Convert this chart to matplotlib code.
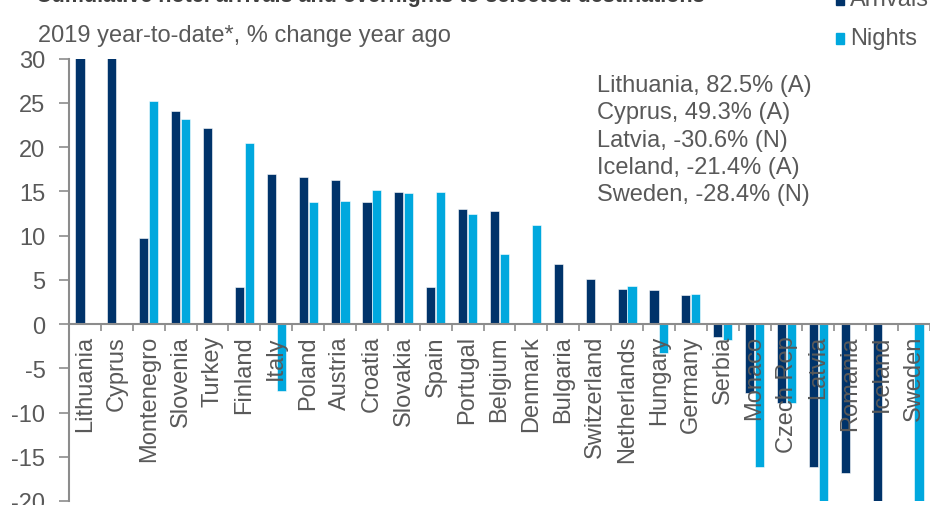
import numpy as np
import matplotlib
matplotlib.use("Agg")
import matplotlib.pyplot as plt
from matplotlib.patches import Rectangle

countries = ["Lithuania", "Cyprus", "Montenegro", "Slovenia", "Turkey", "Finland", "Italy",
             "Poland", "Austria", "Croatia", "Slovakia", "Spain", "Portugal", "Belgium",
             "Denmark", "Bulgaria", "Switzerland", "Netherlands", "Hungary", "Germany",
             "Serbia", "Monaco", "Czech Rep", "Latvia", "Romania", "Iceland", "Sweden"]
arrivals = [82.5, 49.3, 9.75, 24.1, 22.1, 4.15, 16.95,
            16.6, 16.25, 13.75, 14.9, 4.15, 12.95, 12.8,
            np.nan, 6.75, 5.1, 3.95, 3.8, 3.25,
            -1.45, -7.8, -8.95, -16.2, -16.8, -21.4, np.nan]
nights = [np.nan, np.nan, 25.2, 23.15, np.nan, 20.45, -7.6,
          13.75, 13.95, 15.15, 14.8, 14.9, 12.45, 7.95,
          11.2, np.nan, 0.1, 4.25, -3.3, 3.35,
          -1.8, -16.2, -8.95, -30.6, np.nan, np.nan, -28.4]
notes = ["Lithuania, 82.5% (A)", "Cyprus, 49.3% (A)", "Latvia, -30.6% (N)",
         "Iceland, -21.4% (A)", "Sweden, -28.4% (N)"]
yticks = [-20, -15, -10, -5, 0, 5, 10, 15, 20, 25, 30]

C_ARR = "#00336A"
C_NIG = "#00A8DE"
GRAY = "#595959"
SPINE = "#8C8C8C"
FS = 17

plt.rcParams["font.family"] = ["Liberation Sans", "DejaVu Sans"]

W, H = 930, 506
fig = plt.figure(figsize=(W / 100, H / 100), dpi=100)
ax = fig.add_axes([69 / W, 1 - 502 / H, (W - 69) / W, (502 - 59.5) / H])

x = np.arange(len(countries))
bw = 0.285
ax.bar(x - 0.155, arrivals, width=bw, color=C_ARR, edgecolor="white", linewidth=0.4, zorder=1)
ax.bar(x + 0.155, nights, width=bw, color=C_NIG, edgecolor="white", linewidth=0.4, zorder=1)

ax.set_xlim(-0.5, len(countries) - 0.5)
ax.set_ylim(-20, 30)

for s in ["top", "right"]:
    ax.spines[s].set_visible(False)
ax.spines["bottom"].set_position(("data", 0))
ax.spines["bottom"].set_color(SPINE)
ax.spines["left"].set_color(SPINE)
ax.spines["bottom"].set_linewidth(1.5)
ax.spines["left"].set_linewidth(1.5)

ax.set_yticks(yticks)
ax.set_yticklabels([str(v) for v in yticks])
ax.tick_params(axis="y", direction="out", length=7, width=1.2, color=SPINE,
               labelsize=FS, labelcolor=GRAY, pad=10)

ax.set_xticks(x)
ax.set_xticklabels(countries, rotation=90, va="top", ha="center")
ax.tick_params(axis="x", which="major", length=0, labelsize=FS, labelcolor=GRAY, pad=8)
ax.set_xticks(np.arange(len(countries) + 1) - 0.5, minor=True)
ax.tick_params(axis="x", which="minor", direction="out", length=5, width=1.2, color=SPINE)

ax.text(596.7 / W, 1 - 75 / H, "\n".join(notes), transform=fig.transFigure,
        fontsize=FS, color=GRAY, va="top", ha="left", linespacing=1.31)

fig.text(38 / W, 1 - 36 / H, "2019 year-to-date*, % change year ago",
         fontsize=FS, color=GRAY, va="center", ha="left")

fig.text(36 / W, 1 - 2 / H,
         "Cumulative hotel arrivals and overnights to selected destinations",
         fontsize=15.5, fontweight="bold", color="#404040", va="baseline", ha="left")

# legend
for yc, lab, col in [(0, "Arrivals", C_ARR), (39, "Nights", C_NIG)]:
    fig.patches.append(Rectangle((836 / W, 1 - (yc + 6) / H), 8 / W, 11 / H,
                                 transform=fig.transFigure, color=col, figure=fig))
    fig.text(850 / W, 1 - yc / H, lab, fontsize=FS, color=GRAY, va="center", ha="left")

fig.savefig("out.png", dpi=100)
